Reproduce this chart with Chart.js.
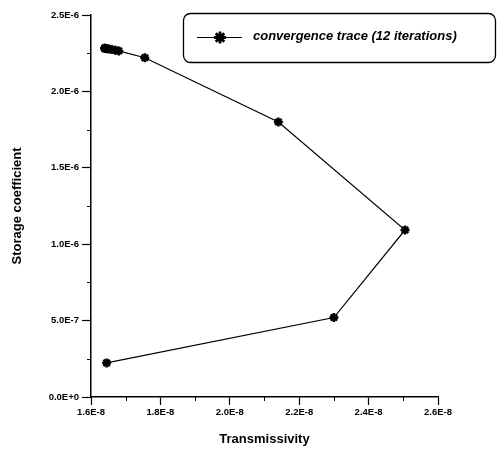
<!DOCTYPE html>
<html>
<head>
<meta charset="utf-8">
<script src="https://cdn.jsdelivr.net/npm/chart.js@4.4.1/dist/chart.umd.min.js"></script>
<style>
    html, body { margin: 0; padding: 0; background: #fff; }
    #wrap { width: 500px; height: 451px; }
</style>
</head>
<body>
<div id="wrap"><canvas id="plot" width="500" height="451"></canvas></div>
<script>
// iteration path: transmissivity (x) vs storage coefficient (y)
const transmissivity = [1.645e-8, 2.300e-8, 2.505e-8, 2.140e-8, 1.755e-8, 1.680e-8, 1.670e-8, 1.660e-8, 1.652e-8, 1.646e-8, 1.642e-8, 1.640e-8, 1.639e-8]
const storage = [2.23e-7, 5.20e-7, 1.093e-6, 1.800e-6, 2.220e-6, 2.265e-6, 2.270e-6, 2.274e-6, 2.277e-6, 2.279e-6, 2.281e-6, 2.282e-6, 2.282e-6]

const xTicks = [1.6e-8, 1.8e-8, 2.0e-8, 2.2e-8, 2.4e-8, 2.6e-8]
const xTickLabels = ['1.6E-8', '1.8E-8', '2.0E-8', '2.2E-8', '2.4E-8', '2.6E-8']
const xMinor = [1.7e-8, 1.9e-8, 2.1e-8, 2.3e-8, 2.5e-8]
const yTicks = [0, 5e-7, 1.0e-6, 1.5e-6, 2.0e-6, 2.5e-6]
const yTickLabels = ['0.0E+0', '5.0E-7', '1.0E-6', '1.5E-6', '2.0E-6', '2.5E-6']
const yMinor = [2.5e-7, 7.5e-7, 1.25e-6, 1.75e-6, 2.25e-6]

const seriesLabel = 'convergence trace (12 iterations)'

const tickFont = { family: 'Liberation Sans, Arial, sans-serif', size: 9.5, weight: 'bold' }
const titleFont = { family: 'Liberation Sans, Arial, sans-serif', size: 13, weight: 'bold' }

// short minor ticks between the labelled ones
const minorTicks = {
    id: 'minorTicks',
    afterDraw(chart) {
        const { ctx, scales: { x, y } } = chart
        ctx.save()
        ctx.strokeStyle = '#000'
        ctx.lineWidth = 1
        ctx.beginPath()
        xMinor.forEach(v => {
            const px = Math.round(x.getPixelForValue(v)) + 0.5
            ctx.moveTo(px, x.top)
            ctx.lineTo(px, x.top + 4)
        })
        yMinor.forEach(v => {
            const py = Math.round(y.getPixelForValue(v)) + 0.5
            ctx.moveTo(y.right, py)
            ctx.lineTo(y.right - 4, py)
        })
        ctx.stroke()
        ctx.restore()
    },
}

// boxed legend with rounded corners, line through the marker
const boxLegend = {
    id: 'boxLegend',
    afterDraw(chart) {
        const { ctx } = chart
        ctx.save()
        ctx.strokeStyle = '#000'
        ctx.lineWidth = 1.3
        ctx.beginPath()
        ctx.roundRect(183.5, 13.5, 312, 49, 7)
        ctx.stroke()

        ctx.lineWidth = 1
        ctx.beginPath()
        ctx.moveTo(197, 37.5)
        ctx.lineTo(242, 37.5)
        ctx.stroke()
        ctx.lineWidth = 2.8
        Chart.helpers.drawPoint(ctx, { pointStyle: 'star', radius: 6, borderWidth: 2.8, rotation: 0 }, 220, 37.5)

        ctx.fillStyle = '#000'
        ctx.font = 'italic bold 13px "Liberation Sans", Arial, sans-serif'
        ctx.textBaseline = 'middle'
        ctx.fillText(seriesLabel, 253, 36)
        ctx.restore()
    },
}

const points = transmissivity.map((t, i) => ({ x: t, y: storage[i] }))

new Chart(document.getElementById('plot'), {
    type: 'scatter',
    data: {
        datasets: [{
            label: seriesLabel,
            data: points,
            showLine: true,
            borderColor: '#000',
            borderWidth: 1.2,
            pointStyle: 'star',
            pointRadius: 4.5,
            pointBorderWidth: 2.5,
            pointBorderColor: '#000',
            pointBackgroundColor: '#000',
            tension: 0,
        }],
    },
    options: {
        responsive: false,
        devicePixelRatio: 1,
        animation: false,
        layout: { padding: { left: 0, right: 62, top: 15, bottom: 0 } },
        plugins: {
            legend: { display: false },
            tooltip: { enabled: false },
        },
        scales: {
            x: {
                type: 'linear',
                min: 1.6e-8,
                max: 2.6e-8,
                afterBuildTicks: s => { s.ticks = xTicks.map(v => ({ value: v })) },
                afterFit: s => { s.height = 54 },
                ticks: {
                    autoSkip: false,
                    maxRotation: 0,
                    padding: 2,
                    color: '#000',
                    font: tickFont,
                    callback: (v, i) => xTickLabels[i],
                },
                grid: { drawOnChartArea: false, tickLength: 8, tickColor: '#000', tickWidth: 1.2 },
                border: { color: '#000', width: 1.5 },
                title: { display: true, text: 'Transmissivity', color: '#000', font: titleFont, padding: { top: 0, bottom: 4 } },
            },
            y: {
                type: 'linear',
                min: 0,
                max: 2.5e-6,
                afterBuildTicks: s => { s.ticks = yTicks.map(v => ({ value: v })) },
                afterFit: s => { s.width = 91 },
                ticks: {
                    autoSkip: false,
                    padding: 3,
                    color: '#000',
                    font: tickFont,
                    callback: (v, i) => yTickLabels[i],
                },
                grid: { drawOnChartArea: false, tickLength: 9, tickColor: '#000', tickWidth: 1.2 },
                border: { color: '#000', width: 1.5 },
                title: { display: true, text: 'Storage coefficient', color: '#000', font: titleFont, padding: { top: 10, bottom: 0 } },
            },
        },
    },
    plugins: [minorTicks, boxLegend],
})
</script>
</body>
</html>
